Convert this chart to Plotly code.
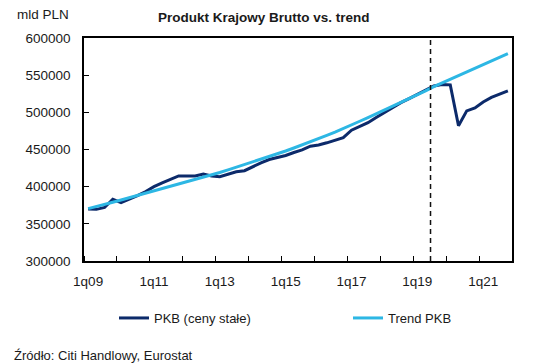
import plotly.graph_objects as go

quarters = [f"{q}q{y:02d}" for y in range(9, 22) for q in range(1, 5)]

pkb = [370000, 369500, 372000, 383000, 378500, 383000, 388000, 393500,
       400000, 405000, 410000, 414500, 414500, 414500, 417000, 414500,
       413500, 416500, 420000, 421500, 427000, 432000, 436500, 439000,
       442000, 446000, 449500, 454500, 456000, 459000, 462500, 466000,
       476000, 481000, 486000, 493000, 500000, 507000, 513000, 518500,
       524000, 530000, 535500, 537500, 537000, 482000, 502000, 506000,
       514000, 520000, 525000, 529000]

trend = [370500, 373000, 376000, 379000, 382000, 385000, 388000, 391000,
         394000, 397000, 400000, 403000, 406000, 409000, 412000, 415500,
         419000, 422500, 426000, 429500, 433000, 436500, 440000, 444000,
         448000, 452000, 456000, 460000, 464500, 469000, 473500, 478000,
         483000, 488000, 493000, 498000, 503000, 508000, 513000, 518000,
         523500, 529000, 534500, 539500, 544500, 549500, 554000, 559000,
         564000, 569000, 574000, 579000]

tick_labels = ["1q09", "1q11", "1q13", "1q15", "1q17", "1q19", "1q21"]
y_ticks = [300000, 350000, 400000, 450000, 500000, 550000, 600000]
marker_pos = 41.6  # dashed line, mid-2019

x = list(range(len(quarters)))
font_family = "Liberation Sans, Arial, sans-serif"

W, H = 536, 364
L, R, T, B = 84, 24, 38, 103
PW, PH = W - L - R, H - T - B


def px_x(p):
    return (p - L) / PW


def px_y(p):
    return (H - B - p) / PH


fig = go.Figure()
fig.add_trace(go.Scatter(x=x, y=pkb, mode="lines", name="PKB (ceny stałe)",
                         line=dict(color="#0c2a6a", width=3), legend="legend"))
fig.add_trace(go.Scatter(x=x, y=trend, mode="lines", name="Trend PKB",
                         line=dict(color="#2db7e4", width=3), legend="legend2"))

fig.add_shape(type="line", x0=marker_pos, x1=marker_pos, y0=0, y1=1,
              xref="x", yref="paper",
              line=dict(color="#111", width=1.5, dash="5px,4px"))

legend_common = dict(orientation="h", yanchor="middle", xanchor="left",
                     font=dict(size=13), bgcolor="rgba(0,0,0,0)")

fig.update_layout(
    width=W, height=H,
    margin=dict(l=L, r=R, t=T, b=B),
    paper_bgcolor="white", plot_bgcolor="white",
    font=dict(family=font_family, size=13, color="#1a1a1a"),
    showlegend=True,
    legend=dict(x=px_x(114), y=px_y(318), **legend_common),
    legend2=dict(x=px_x(348), y=px_y(318), **legend_common),
)

fig.update_xaxes(
    range=[-0.5, 51.5], showgrid=False, zeroline=False,
    showline=True, linecolor="black", linewidth=1.5, mirror=True,
    tickmode="array", tickvals=[quarters.index(t) for t in tick_labels],
    ticktext=tick_labels, ticks="", ticklabelstandoff=7,
    tickfont=dict(size=13.5),
    minor=dict(tick0=-0.5, dtick=4, ticks="inside", ticklen=5,
               tickcolor="black", tickwidth=1.2, showgrid=False),
)
fig.update_yaxes(
    range=[300000, 600000], showgrid=False, zeroline=False,
    showline=True, linecolor="black", linewidth=1.5, mirror=True,
    tickmode="array", tickvals=y_ticks, ticktext=[str(v) for v in y_ticks],
    ticks="inside", ticklen=5, tickcolor="black", tickwidth=1.2,
    ticklabelstandoff=9, tickfont=dict(size=13.5),
)

fig.add_annotation(text="<b>Produkt Krajowy Brutto vs. trend</b>",
                   xref="paper", yref="paper", x=px_x(264), y=px_y(18),
                   xanchor="center", yanchor="middle", showarrow=False,
                   font=dict(size=13.5))
fig.add_annotation(text="mld PLN", xref="paper", yref="paper",
                   x=px_x(71), y=px_y(15), xanchor="right",
                   yanchor="middle", showarrow=False, font=dict(size=13.5))
fig.add_annotation(text="Źródło: Citi Handlowy, Eurostat", xref="paper",
                   yref="paper", x=px_x(12), y=px_y(355),
                   xanchor="left", yanchor="middle", showarrow=False,
                   font=dict(size=13))

fig.write_html("out.html",
               config={"displayModeBar": False},
               post_script="document.body.style.margin='0';"
                           "document.body.style.overflow='hidden';")
